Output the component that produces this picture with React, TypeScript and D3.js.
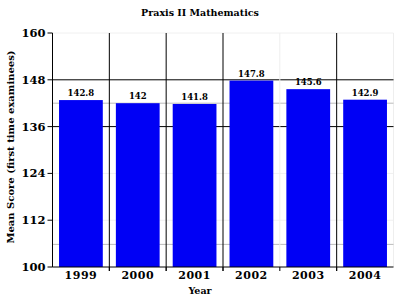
import React from "react";
import * as d3 from "d3";

const years = ["1999", "2000", "2001", "2002", "2003", "2004"];
const scores = [142.8, 142, 141.8, 147.8, 145.6, 142.9];
const valueLabels = ["142.8", "142", "141.8", "147.8", "145.6", "142.9"];
const yTicks = [100, 112, 124, 136, 148, 160];
const darkGrid = [136, 148];
const grayGrid = [105.8, 142];

export default function App() {
  const W = 400, H = 300;
  const left = 52.5, right = 393.5, top = 33, bottom = 267;
  const font = "'DejaVu Serif', serif";
  const x = d3.scaleBand<string>().domain(years).range([left, right]).paddingInner(0.23).paddingOuter(0.115);
  const xc = d3.scaleBand<string>().domain(years).range([left, right]);
  const y = d3.scaleLinear().domain([100, 160]).range([bottom, top]);
  const bw = x.bandwidth();
  return (
    <svg width={W} height={H} style={{ position: "absolute", left: 0, top: 0, background: "#fff" }}>
      {/* faint grid */}
      {[112, 124, 160].map((t) => (
        <line key={"f" + t} x1={left} x2={right} y1={y(t)} y2={y(t)} stroke="#f0f0f0" />
      ))}
      <line x1={right} x2={right} y1={top} y2={bottom} stroke="#eee" />
      {grayGrid.map((t) => (
        <line key={"g" + t} x1={left} x2={right} y1={y(t)} y2={y(t)} stroke="#bbb" />
      ))}
      {darkGrid.map((t) => (
        <line key={"d" + t} x1={left} x2={right} y1={y(t)} y2={y(t)} stroke="#000" />
      ))}
      {years.slice(1).map((yr, i) => {
        const xv = xc(yr)!;
        return (
          <line key={"v" + yr} x1={xv} x2={xv} y1={top} y2={bottom + 4} stroke={i === 3 ? "#eee" : "#000"} />
        );
      })}
      {years.slice(1).map((yr) => {
        const xv = xc(yr)!;
        return <line key={"t" + yr} x1={xv} x2={xv} y1={bottom} y2={bottom + 4} stroke="#000" />;
      })}
      {years.map((yr, i) => (
        <rect key={yr} x={x(yr)} y={y(scores[i])} width={bw} height={bottom - y(scores[i])} fill="#0000f5" />
      ))}
      {years.map((yr, i) => (
        <text key={"l" + yr} x={x(yr)! + bw / 2} y={y(scores[i]) - 4} textAnchor="middle"
          fontFamily={font} fontWeight="bold" fontSize={8.5} fill="#000">{valueLabels[i]}</text>
      ))}
      <line x1={left} x2={left} y1={top} y2={bottom} stroke="#000" />
      <line x1={left} x2={right} y1={bottom} y2={bottom} stroke="#000" />
      {yTicks.map((t) => (
        <g key={"y" + t}>
          <line x1={left - 5} x2={left} y1={y(t)} y2={y(t)} stroke="#000" />
          <text x={left - 7} y={y(t) + 4} textAnchor="end" fontFamily={font} fontWeight="bold" fontSize={11.5}>{t}</text>
        </g>
      ))}
      {years.map((yr) => (
        <text key={"x" + yr} x={xc(yr)! + xc.bandwidth() / 2} y={bottom + 12} textAnchor="middle"
          fontFamily={font} fontWeight="bold" fontSize={11} letterSpacing={0.5}>{yr}</text>
      ))}
      <text x={200} y={16} textAnchor="middle" fontFamily={font} fontWeight="bold" fontSize={9.5}>Praxis II Mathematics</text>
      <text x={200} y={294} textAnchor="middle" fontFamily={font} fontWeight="bold" fontSize={9.5}>Year</text>
      <text transform={`translate(14, 147) rotate(-90)`} textAnchor="middle" fontFamily={font} fontWeight="bold" fontSize={10}>Mean Score (first time examinees)</text>
    </svg>
  );
}
